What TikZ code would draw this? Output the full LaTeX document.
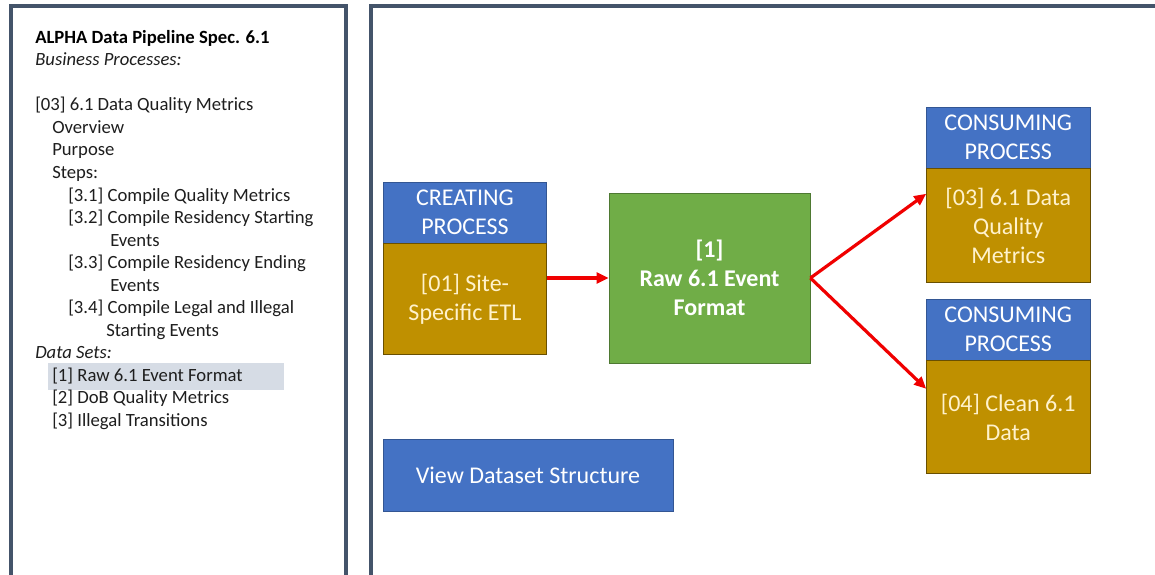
\documentclass[tikz,border=0pt]{standalone}
\usepackage{fontspec}
\setmainfont{Carlito}
\usetikzlibrary{positioning,arrows.meta,backgrounds}
\definecolor{pipeblue}{HTML}{4472C4}
\definecolor{pipegold}{HTML}{BF9000}
\definecolor{pipegreen}{HTML}{70AD47}
\definecolor{pipeframe}{HTML}{44546A}
\definecolor{pipered}{HTML}{F00000}
\definecolor{pipecream}{HTML}{FFF2CC}
\definecolor{pipehl}{HTML}{D6DCE5}
\definecolor{pipetext}{HTML}{1E1E1E}
\tikzset{
  frame/.style ={draw=pipeframe,line width=3pt},
  head/.style  ={draw=pipeblue!75!black,fill=pipeblue,text=white,line width=0.6pt,align=center,inner sep=2pt,
                 font=\fontsize{18}{21.75}\selectfont,minimum width=122.5pt,minimum height=45.75pt},
  proc/.style  ={head,draw=pipegold!55!black,fill=pipegold,text=pipecream},
  dset/.style  ={head,draw=pipegreen!70!black,fill=pipegreen,font=\fontsize{18}{21.75}\selectfont\bfseries,
                 minimum width=150.75pt,minimum height=127.5pt},
  btn/.style   ={head,minimum width=217.5pt,minimum height=54pt},
  arr/.style   ={-{Triangle[length=9pt,width=8pt]},line width=2.4pt,draw=pipered},
  item/.style  ={anchor=base west,inner sep=0pt,font=\fontsize{14}{16.875}\selectfont,text=pipetext},
}

\begin{document}
\begin{tikzpicture}[x=0.75pt,y=-0.75pt]
  \clip (0,0) rectangle (1155,574);

  % panels
  \draw[frame] (10.5,590) |- (345.5,6.5) -- (345.5,590);
  \draw[frame] (370.5,590) |- (1170,6.5);

  % outline of the spec
  \node[item,text=black,font=\fontsize{14}{16.875}\selectfont\bfseries] (title) at (35,43.5) {ALPHA Data Pipeline Spec. 6.1};
  \node[item,font=\fontsize{14}{16.875}\selectfont\itshape] (bphead) at (35,66) {Business Processes:};
  \node[item] (dq)   at (35,111)   {[03] 6.1 Data Quality Metrics};
  \node[item] (ov)   at (52,133.5) {Overview};
  \node[item] (pu)   at (52,156)   {Purpose};
  \node[item] (st)   at (52,178.5) {Steps:};
  \node[item] (s31)  at (68,201)   {[3.1] Compile Quality Metrics};
  \node[item] (s32)  at (68,223.5) {[3.2] Compile Residency Starting};
  \node[item] (s32b) at (110,246)  {Events};
  \node[item] (s33)  at (68,268.5) {[3.3] Compile Residency Ending};
  \node[item] (s33b) at (110,291)  {Events};
  \node[item] (s34)  at (68,313.5) {[3.4] Compile Legal and Illegal};
  \node[item] (s34b) at (106,336)  {Starting Events};
  \node[item,font=\fontsize{14}{16.875}\selectfont\itshape] (dshead) at (35,358.5) {Data Sets:};
  \node[item] (ds1)  at (52,381)   {[1] Raw 6.1 Event Format};
  \node[item] (ds2)  at (52,403.5) {[2] DoB Quality Metrics};
  \node[item] (ds3)  at (52,426)   {[3] Illegal Transitions};
  \begin{scope}[on background layer]
    \fill[white] (0,0) rectangle (1155,574);
    \fill[pipehl] (48,363) rectangle (284,390);
  \end{scope}

  % lineage
  \node[head] (ch) at (465,212.5) {CREATING\\PROCESS};
  \node[proc, below=0pt of ch, minimum height=83.25pt] (cb) {[01] Site-\\Specific ETL};
  \node[dset] (gr) at (709.5,278) {[1]\\Raw 6.1 Event\\Format};
  \node[head] (c1h) at (1008.25,137.5) {CONSUMING\\PROCESS};
  \node[proc, below=0pt of c1h, minimum height=85.5pt] (c1b) {[03] 6.1 Data\\Quality\\Metrics};
  \node[head] (c2h) at (1008.25,329.5) {CONSUMING\\PROCESS};
  \node[proc, below=0pt of c2h, minimum height=84.75pt] (c2b) {[04] Clean 6.1\\Data};
  \node[btn] (view) at (528,475) {View Dataset Structure};

  \draw[arr] (cb.east |- gr.west) -- (gr.west);
  \draw[arr] (gr.east) -- ([yshift=24pt]c1b.west);
  \draw[arr] (gr.east) -- ([yshift=21.4pt]c2b.west);
\end{tikzpicture}
\end{document}
